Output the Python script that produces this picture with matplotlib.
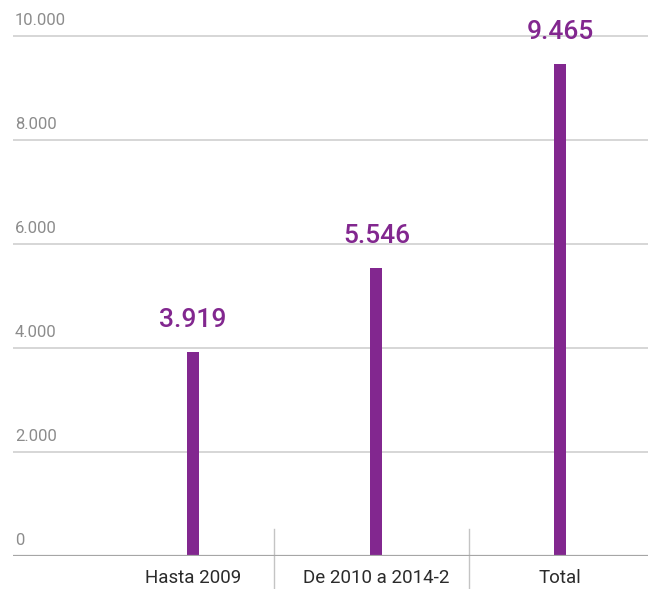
import matplotlib.pyplot as plt
import matplotlib.transforms as mtransforms

# values per period
categories = ["Hasta 2009", "De 2010 a 2014-2", "Total"]
values = [3919, 5546, 9465]
value_labels = ["3.919", "5.546", "9.465"]
y_ticks = [0, 2000, 4000, 6000, 8000, 10000]
y_tick_labels = ["0", "2.000", "4.000", "6.000", "8.000", "10.000"]
separators = [0.441, 1.504]

purple = "#82278f"
plt.rcParams["font.family"] = ["Roboto", "Liberation Sans", "DejaVu Sans"]

fig = plt.figure(figsize=(6.48, 5.89), dpi=100)
ax = fig.add_axes([13 / 648, 33 / 589, 635 / 648, 556 / 589])

x = list(range(len(categories)))
ax.bar(x, values, width=0.065, color=purple, zorder=3)
ax.set_xlim(-0.981, 2.480)
ax.set_ylim(0, 10692)

# grid lines with labels sitting on top, left aligned
for t, lab in zip(y_ticks, y_tick_labels):
    if t == 0:
        ax.axhline(t, color="#a6a6a6", lw=1.6, zorder=4)
    else:
        ax.axhline(t, color="#cfcfcf", lw=1.2, zorder=1)
    ax.annotate(lab, xy=(0.003, t), xycoords=("axes fraction", "data"),
                xytext=(0, 6), textcoords="offset points",
                ha="left", va="bottom", fontsize=12, color="#8c8c8c")

# value labels above bars
for xi, v, lab in zip(x, values, value_labels):
    ax.annotate(lab, xy=(xi, v), xytext=(0, 18), textcoords="offset points",
                ha="center", va="baseline", fontsize=19, fontweight="medium",
                color=purple)

# category labels under the baseline
for xi, lab in zip(x, categories):
    ax.annotate(lab, xy=(xi, 0), xytext=(0, -19.5), textcoords="offset points",
                ha="center", va="baseline", fontsize=13.5, color="#2b2b2b")

# thin separators between the categories
trans = mtransforms.blended_transform_factory(ax.transData, ax.transAxes)
for s in separators:
    ax.plot([s, s], [0.0486, -0.07], transform=trans, color="#c4c4c4",
            lw=1.0, clip_on=False, zorder=2)

ax.set_xticks([])
ax.set_yticks([])
for spine in ax.spines.values():
    spine.set_visible(False)

fig.savefig("out.png", dpi=100)
